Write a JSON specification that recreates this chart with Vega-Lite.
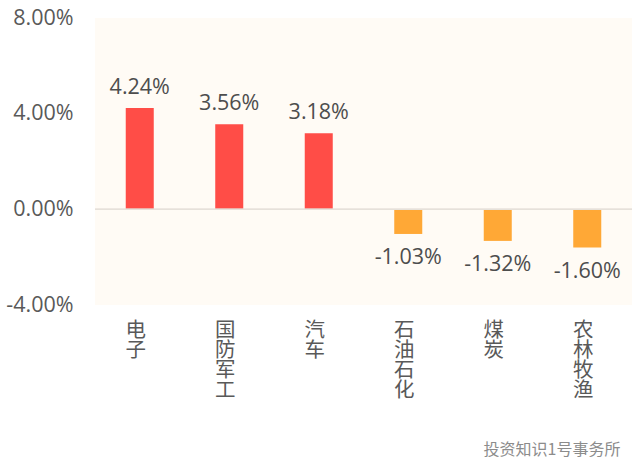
{"$schema":"https://vega.github.io/schema/vega-lite/v6.json","width":537,"height":287,"autosize":"none","padding":{"left":95,"top":18,"right":8,"bottom":171},"background":"#ffffff","view":{"fill":"#fffbf5","stroke":null},"config":{"font":"Open Sans","axis":{"grid":false}},"data":{"values":[{"name":"电子","v":0.0424,"label":"4.24%"},{"name":"国防军工","v":0.0356,"label":"3.56%"},{"name":"汽车","v":0.0318,"label":"3.18%"},{"name":"石油石化","v":-0.0103,"label":"-1.03%"},{"name":"煤炭","v":-0.0132,"label":"-1.32%"},{"name":"农林牧渔","v":-0.016,"label":"-1.60%"}]},"encoding":{"x":{"field":"name","type":"nominal","sort":null,"scale":{"paddingInner":0.687,"paddingOuter":0.3435},"axis":{"labelAngle":0,"labelAlign":"center","labelBaseline":"top","labelPadding":15,"labelOffset":-4,"labelFontSize":20.5,"labelFont":"Noto Sans CJK SC","labelColor":"#595959","labelLineHeight":20.3,"labelExpr":"split(datum.label,'')","domain":false,"ticks":false,"title":"投资知识1号事务所","titleFont":"Noto Sans CJK SC","titleFontSize":16,"titleFontWeight":"normal","titleColor":"#8c8c8c","titleAnchor":"end","titleY":136,"titleX":525}},"y":{"field":"v","type":"quantitative","scale":{"domain":[-0.04,0.08],"nice":false},"axis":{"values":[-0.04,0,0.04,0.08],"format":".2%","labelExpr":"replace(datum.label,'−','-')","title":null,"domain":false,"ticks":false,"labelPadding":22,"labelFontSize":21.5,"labelColor":"#595959","labelFont":"Open Sans"}}},"layer":[{"mark":{"type":"bar"},"encoding":{"color":{"condition":{"test":"datum.v>=0","value":"#ff4d47"},"value":"#ffa836"}}},{"mark":{"type":"rule","color":"#e6e1da","strokeWidth":1},"encoding":{"x":{},"y":{"datum":0}}},{"transform":[{"filter":"datum.v>=0"}],"mark":{"type":"text","baseline":"bottom","dy":-9,"fontSize":21.5,"color":"#4d4d4d","font":"Open Sans"},"encoding":{"text":{"field":"label","type":"nominal"}}},{"transform":[{"filter":"datum.v<0"}],"mark":{"type":"text","baseline":"top","dy":13,"fontSize":21.5,"color":"#4d4d4d","font":"Open Sans"},"encoding":{"text":{"field":"label","type":"nominal"}}}]}
